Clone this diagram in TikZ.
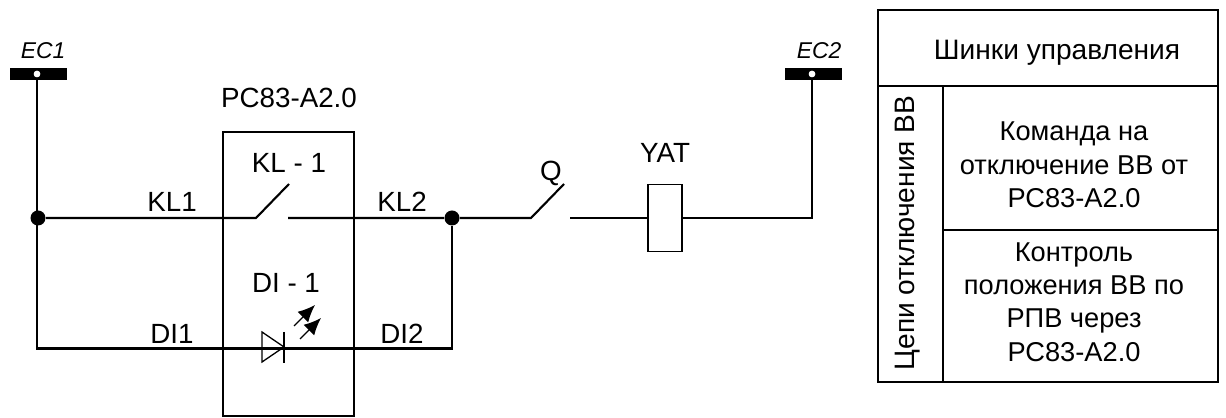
\documentclass[tikz,border=0pt]{standalone}
\usepackage{fontspec}
\setmainfont{Liberation Sans}
\usetikzlibrary{arrows.meta}

\begin{document}
\begin{tikzpicture}[x=0.2mm, y=0.2mm, font=\fontsize{15.8}{18}\selectfont,
    block/.style={rectangle, draw, line width=0.3mm, inner sep=0pt},
    wire/.style={line width=0.42mm},
    bus/.style={rectangle, fill=black, minimum width=11.4mm, minimum height=2.4mm, inner sep=0pt},
    busdot/.style={circle, fill=white, minimum size=1.3mm, inner sep=0pt},
    junction/.style={circle, fill=black, minimum size=3mm, inner sep=0pt},
    buslabel/.style={font=\fontsize{13}{15}\selectfont\itshape},
    led/.style={line width=0.26mm, -{Latex[length=3.4mm, width=3mm]}},
    cell/.style={block, minimum width=55mm},
    celltext/.style={align=center, font=\fontsize{15.5}{19}\selectfont}]

    \useasboundingbox (0,0) rectangle (1226,418);

    \node[bus] (ec1) at (38.5,344) {};
    \node[busdot] (ec1dot) at (37,344) {};
    \node[buslabel] (ec1label) at (43,367) {EC1};
    \node[bus] (ec2) at (813.5,344) {};
    \node[busdot] (ec2dot) at (812,344) {};
    \node[buslabel] (ec2label) at (819,367) {EC2};

    \node[block, minimum width=26.2mm, minimum height=56.8mm] (relay) at (288.5,144) {};
    \node[block, minimum width=6.8mm, minimum height=13.4mm] (yat) at (665,200) {};

    \node[junction] (left) at (38,200) {};
    \node[junction] (right) at (452,200) {};

    \node[coordinate] (klin) at (256,200) {};
    \node[coordinate] (klout) at (288,200) {};
    \node[coordinate] (kltip) at (289,234) {};
    \node[coordinate] (qin) at (531,200) {};
    \node[coordinate] (qout) at (570,200) {};
    \node[coordinate] (qtip) at (564,234) {};
    \node[coordinate] (dicorner) at (37,69.5) {};
    \node[coordinate] (dicorner2) at (452,69.5) {};
    \node[coordinate] (ec2corner) at (812,200) {};

    \draw[wire] (ec1dot) -- (dicorner) -- (dicorner2) -- (right);
    \draw[wire] (left) -- (klin) -- (kltip);
    \draw[wire] (klout) -- (right) -- (qin) -- (qtip);
    \draw[wire] (qout) -- (yat.west);
    \draw[wire] (yat.east) -- (ec2corner) -- (ec2dot);
    \node[busdot] at (ec1dot) {};
    \node[busdot] at (ec2dot) {};

    % diode
    \draw[line width=0.26mm] (262,86) -- (262,56) -- (284,71) -- cycle;
    \draw[line width=0.26mm] (284,86) -- (284,55);
    \draw[led] (294,92) -- (315,113);
    \draw[led] (300,79) -- (321,100);

    \node (relaylabel) at (289,320) {PC83-A2.0};
    \node (kl) at (289,255) {KL - 1};
    \node (kl1) at (172,216) {KL1};
    \node (kl2) at (402,216) {KL2};
    \node (di) at (286,135) {DI - 1};
    \node (di1) at (172,84) {DI1};
    \node (di2) at (402,84) {DI2};
    \node (q) at (551,245) {Q};
    \node (yatlabel) at (665,265) {YAT};

    % table
    \node[block, minimum width=68mm, minimum height=15.2mm] (head) at (1048,370) {};
    \node[font=\fontsize{16}{18}\selectfont] (headtext) at (1057,365) {Шинки управления};
    \node[block, minimum width=13mm, minimum height=59.2mm] (side) at (910.5,184) {};
    \node[rotate=90, font=\fontsize{16}{18}\selectfont] (sidetext) at (908,185) {Цепи отключения ВВ};
    \node[cell, minimum height=28.8mm] (cmd) at (1080.5,260) {};
    \node[celltext] (cmdtext) at (1074,253) {Команда на\\отключение ВВ от\\РС83-А2.0};
    \node[cell, minimum height=30.4mm] (ctrl) at (1080.5,112) {};
    \node[celltext] (ctrltext) at (1074,116) {Контроль\\положения ВВ по\\РПВ через\\РС83-А2.0};

\end{tikzpicture}
\end{document}
